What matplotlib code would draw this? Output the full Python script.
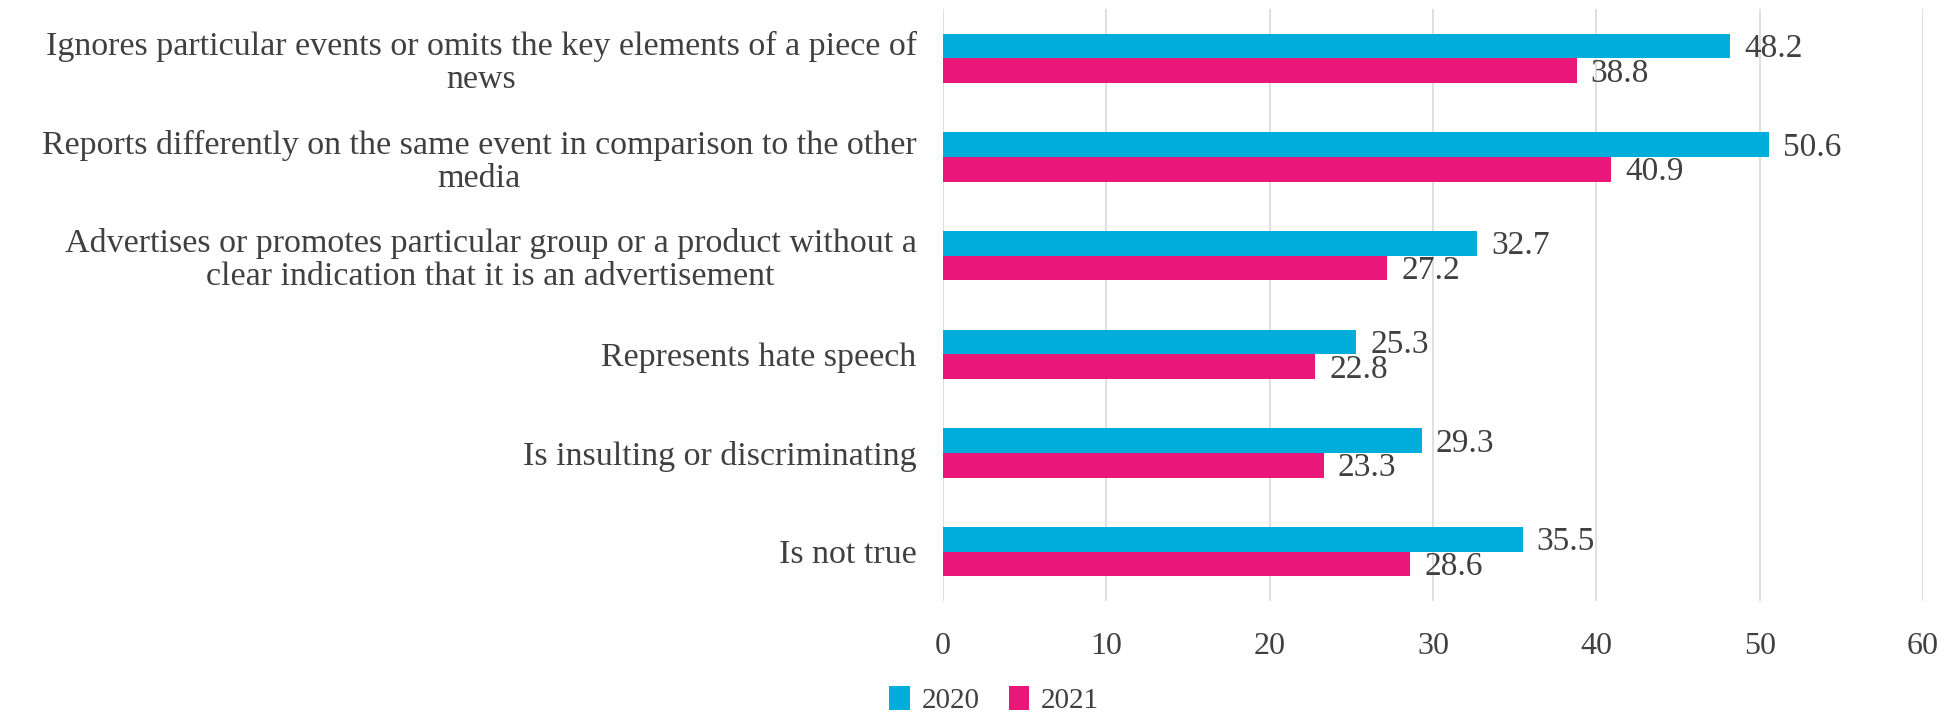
import matplotlib.pyplot as plt
import numpy as np

categories = [
    "Ignores particular events or omits the key elements of a piece of\nnews",
    "Reports differently on the same event in comparison to the other\nmedia",
    "Advertises or promotes particular group or a product without a\nclear indication that it is an advertisement",
    "Represents hate speech",
    "Is insulting or discriminating",
    "Is not true",
]
values_2020 = [48.2, 50.6, 32.7, 25.3, 29.3, 35.5]
values_2021 = [38.8, 40.9, 27.2, 22.8, 23.3, 28.6]
years = ["2020", "2021"]

BLUE = "#01ADDB"
PINK = "#EA177B"
TEXT = "#404040"

plt.rcParams["font.family"] = ["Liberation Serif", "DejaVu Serif"]

fig = plt.figure(figsize=(19.49, 7.24), dpi=100)
ax = fig.add_axes([943 / 1949, 1 - 601 / 724, 980 / 1949, 592 / 724])

y = np.arange(len(categories))
h = 0.25
b1 = ax.barh(y - h / 2, values_2020, height=h, color=BLUE, label=years[0])
b2 = ax.barh(y + h / 2, values_2021, height=h, color=PINK, label=years[1])

for bars in (b1, b2):
    for bar in bars:
        w = bar.get_width()
        ax.annotate(f"{w:.1f}", (w, bar.get_y() + bar.get_height() / 2),
                    xytext=(10, -2), textcoords="offset points",
                    ha="left", va="center", fontsize=24, color=TEXT)

ax.set_xlim(0, 60)
ax.set_ylim(len(categories) - 0.5, -0.5)
ax.set_xticks(range(0, 61, 10))
ax.set_yticks(y)
ax.set_yticklabels(categories, ha="right", multialignment="center", linespacing=1.1)
ax.tick_params(axis="y", length=0, pad=19, labelsize=24.5, labelcolor=TEXT)
ax.tick_params(axis="x", length=0, pad=22, labelsize=23, labelcolor=TEXT)

ax.grid(axis="x", color="#D9D9D9", linewidth=1.2)
ax.set_axisbelow(True)
for s in ax.spines.values():
    s.set_visible(False)

fig.legend(handles=[b1, b2], loc="lower center", bbox_to_anchor=(0.51, -0.022),
           ncol=2, frameon=False, fontsize=21, labelcolor=TEXT,
           handlelength=0.7, handleheight=0.9, handletextpad=0.4, columnspacing=1.0)

fig.savefig("out.png", dpi=100)
